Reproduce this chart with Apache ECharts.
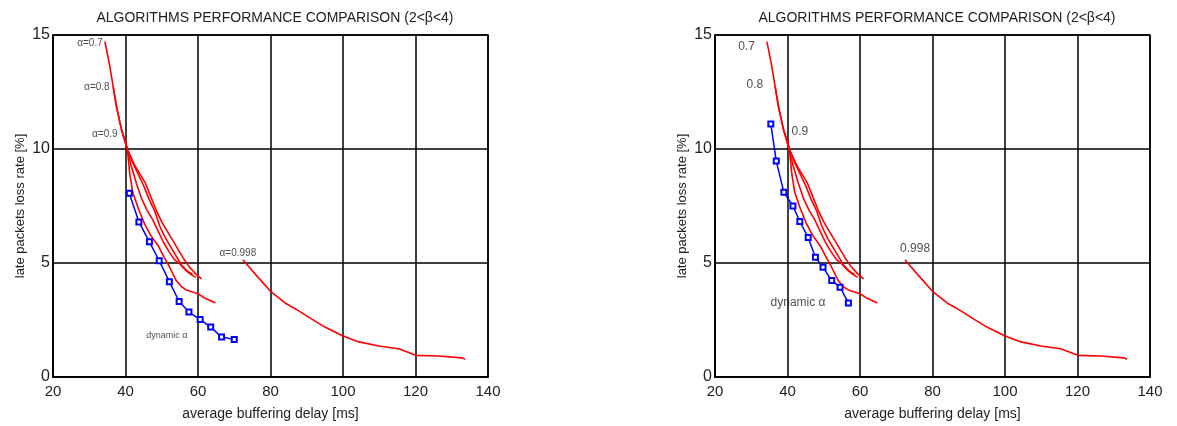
<!DOCTYPE html>
<html><head><meta charset="utf-8">
<script src="https://cdn.jsdelivr.net/npm/echarts@6/dist/echarts.min.js"></script>
<style>html,body{margin:0;padding:0;background:#fff}#c{width:1177px;height:426px}</style>
</head><body><div id="c"></div>
<script>
// ---- data ----
const titleText = 'ALGORITHMS PERFORMANCE COMPARISON (2<β<4)';
const xName = 'average buffering delay [ms]';
const yName = 'late packets loss rate [%]';
const xTicks = [20, 40, 60, 80, 100, 120, 140];
const yTicks = [0, 5, 10, 15];

const alpha07 = [[34.3,14.71],[34.8,14.34],[35.7,13.6],[36.6,12.74],[37.5,11.87],[38.9,10.85],[40.0,10.27],[40.5,10.0],[41.2,8.9],[42,8.1],[43.5,7.4],[45.3,6.7],[47,6.2],[49,5.76],[50.5,5.3],[51.7,4.96],[53,4.55],[54,4.23],[55.5,3.95],[57,3.8],[60,3.65],[62,3.45],[64.8,3.25]];
const alpha08 = [[36.6,12.74],[37.5,11.87],[38.9,10.85],[40.0,10.27],[40.5,10.0],[41.5,9.3],[43,8.5],[44.5,7.8],[46,7.3],[47.5,6.9],[49,6.4],[50.5,5.9],[52,5.5],[53.5,5.15],[55,4.96],[56.5,4.7],[58,4.5],[59.4,4.37]];
const alpha09 = [[38.9,10.85],[40.0,10.27],[40.5,10.0],[42,9.4],[43.5,8.9],[45,8.4],[46.5,7.8],[48,7.3],[49.5,6.6],[51,6.1],[52.5,5.7],[54,5.3],[55.5,4.9],[57,4.65],[58.5,4.5]];
const alpha095 = [[40.0,10.27],[40.5,10.0],[42.5,9.3],[44,8.9],[45.5,8.5],[47,7.9],[48.5,7.3],[50,6.8],[51.5,6.4],[53,6.0],[54.5,5.6],[56,5.2],[57.5,4.85],[59.5,4.5],[61,4.3]];
const alpha0998 = [[72.4,5.14],[73.8,4.88],[76.6,4.37],[80.0,3.76],[84.4,3.21],[87.6,2.92],[91.3,2.55],[95.0,2.19],[100,1.80],[104.4,1.54],[109.9,1.36],[115.4,1.24],[120.1,0.95],[126.4,0.92],[132.8,0.84],[133.7,0.78]];

const dynLeft = [[41.05,8.06],[43.7,6.80],[46.6,5.93],[49.3,5.10],[52.1,4.18],[54.8,3.31],[57.5,2.85],[60.6,2.52],[63.5,2.19],[66.5,1.75],[70.0,1.65]];
const dynRight = [[35.4,11.1],[36.9,9.47],[39.0,8.1],[41.5,7.5],[43.4,6.82],[45.7,6.12],[47.7,5.25],[49.8,4.81],[52.2,4.23],[54.5,3.94],[56.8,3.25]];

const labelsLeft = [
  {text:'α=0.7', at:[30.2,14.64], size:10},
  {text:'α=0.8', at:[32.1,12.73], size:10},
  {text:'α=0.9', at:[34.3,10.63], size:10},
  {text:'α=0.998', at:[71.0,5.44], size:10},
  {text:'dynamic α', at:[51.4,1.81], size:9}
];
const labelsRight = [
  {text:'0.7', at:[28.7,14.49], size:12},
  {text:'0.8', at:[31.0,12.8], size:12},
  {text:'0.9', at:[43.4,10.78], size:12},
  {text:'0.998', at:[75.2,5.61], size:12},
  {text:'dynamic α', at:[42.9,3.25], size:12}
];

// ---- chart ----
const FONT = '"Liberation Sans", Arial, sans-serif';
const TXT = '#222';
const grids = [
  {left:53, top:35, width:435, height:343.5, show:true, borderColor:'#000', borderWidth:1.5, backgroundColor:'#fff'},
  {left:715, top:35, width:435, height:343.5, show:true, borderColor:'#000', borderWidth:1.5, backgroundColor:'#fff'}
];
function xAx(i){return {type:'value', gridIndex:i, min:xTicks[0], max:xTicks[xTicks.length-1], interval:20,
  name:xName, nameLocation:'middle', nameGap:30, nameTextStyle:{fontFamily:FONT,fontSize:14,color:TXT},
  axisLine:{show:true,lineStyle:{color:'#000',width:1.5}}, axisTick:{show:false},
  splitLine:{show:true,lineStyle:{color:'#000',width:1.5}},
  axisLabel:{fontFamily:FONT,fontSize:15,color:TXT,margin:7}};}
function yAx(i){return {type:'value', gridIndex:i, min:yTicks[0], max:yTicks[yTicks.length-1], interval:5,
  name:yName, nameLocation:'middle', nameGap:26, nameTextStyle:{fontFamily:FONT,fontSize:13,color:TXT},
  axisLine:{show:true,lineStyle:{color:'#000',width:1.5}}, axisTick:{show:false},
  splitLine:{show:true,lineStyle:{color:'#000',width:1.5}},
  axisLabel:{fontFamily:FONT,fontSize:16,color:TXT,margin:3}};}

const series = [];
[0,1].forEach(function(g){
  [alpha07, alpha08, alpha09, alpha095, alpha0998].forEach(function(d){
    series.push({type:'line', xAxisIndex:g, yAxisIndex:g, data:d, showSymbol:false, symbol:'none',
      lineStyle:{color:'#ff0000', width:1.6}, z:3, animation:false});
  });
  series.push({type:'line', xAxisIndex:g, yAxisIndex:g, data:g===0?dynLeft:dynRight, symbol:'emptyRect', symbolSize:5,
    showSymbol:true, itemStyle:{color:'#0000ff', borderColor:'#0000ff', borderWidth:1.3},
    lineStyle:{color:'#0000ff', width:1.5}, z:4, animation:false});
  const labs = g===0?labelsLeft:labelsRight;
  series.push({type:'scatter', xAxisIndex:g, yAxisIndex:g, symbolSize:1, itemStyle:{color:'rgba(0,0,0,0)'},
    data: labs.map(function(l){return {value:l.at, label:{show:true, position:'inside', formatter:l.text,
      fontFamily:FONT, fontSize:l.size, color:TXT}};}), z:5, animation:false, silent:true});
});

const chart = echarts.init(document.getElementById('c'), null, {renderer:'canvas'});
chart.setOption({
  animation:false,
  backgroundColor:'#fff',
  title:[
    {text:titleText, left:270, top:6, textAlign:'center', textStyle:{fontFamily:FONT,fontSize:14,fontWeight:'normal',color:TXT}},
    {text:titleText, left:932, top:6, textAlign:'center', textStyle:{fontFamily:FONT,fontSize:14,fontWeight:'normal',color:TXT}}
  ],
  grid:grids,
  xAxis:[xAx(0), xAx(1)],
  yAxis:[yAx(0), yAx(1)],
  series:series
});
</script></body></html>
